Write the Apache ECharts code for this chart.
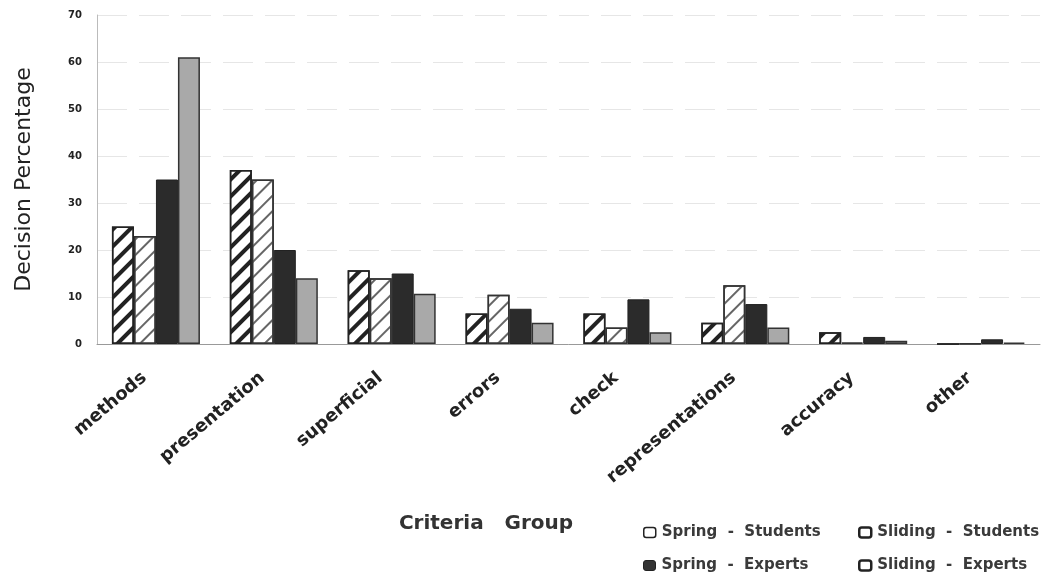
<!DOCTYPE html>
<html>
<head>
<meta charset="utf-8">
<script src="https://cdn.jsdelivr.net/npm/echarts@6/dist/echarts.min.js"></script>
<style>
  html, body { margin: 0; padding: 0; background: #fff; }
  #chart { width: 1044px; height: 583px; }
</style>
</head>
<body>
<div id="chart"></div>
<script>
// categories and values
const categories = ['methods', 'presentation', 'superficial', 'errors', 'check', 'representations', 'accuracy', 'other'];
const springStudents = [25, 37, 15.7, 6.5, 6.5, 4.5, 2.5, 0];
const slidingStudents = [23, 35, 14, 10.5, 3.5, 12.5, 0.3, 0.1];
const springExperts = [35, 20, 15, 7.5, 9.5, 8.5, 1.5, 1];
const slidingExperts = [61, 14, 10.7, 4.5, 2.5, 3.5, 0.7, 0.3];
const yTicks = [0, 10, 20, 30, 40, 50, 60, 70];

const seriesNames = ['Spring - Students', 'Sliding - Students', 'Spring - Experts', 'Sliding - Experts'];

const chart = echarts.init(document.getElementById('chart'));

const font = 'Liberation Sans, Arial, sans-serif';
const wide = 'DejaVu Sans, sans-serif';

// 斜线填充
const hatch = (color, width, gap) => ({
    symbol: 'rect',
    symbolSize: 1,
    color: color,
    dashArrayX: [1, 0],
    dashArrayY: [width, gap],
    rotation: -Math.PI / 4
});

const barBase = {
    type: 'bar',
    barWidth: 22,
    barGap: '0%',
    emphasis: { disabled: true }
};

// 图例：每项单独放置，排成两行两列
const legendItem = (name, fill, border, left, top) => ({
    data: [{ name: name, itemStyle: { color: fill, borderColor: '#222', borderWidth: border, decal: 'none' } }],
    left: left,
    top: top,
    padding: 0,
    itemWidth: 12,
    itemHeight: 10,
    formatter: n => n.replace(' - ', '  -  '),
    textStyle: { fontFamily: wide, fontSize: 15, fontWeight: 'bold', color: '#3a3a3a', padding: [0, 0, 0, 1] },
    selectedMode: false
});

const option = {
    animation: false,
    backgroundColor: '#fff',
    textStyle: { fontFamily: font },
    grid: { left: 97, right: 4, top: 15, bottom: 239 },
    legend: [
        legendItem(seriesNames[0], '#fff', 1.5, 643, 525),
        legendItem(seriesNames[1], '#fff', 2.5, 858, 525),
        legendItem(seriesNames[2], '#333', 1, 643, 558),
        legendItem(seriesNames[3], '#fff', 2.5, 858, 558)
    ],
    xAxis: {
        type: 'category',
        data: categories,
        name: 'Criteria   Group',
        nameLocation: 'middle',
        nameGap: 170,
        nameTextStyle: { fontFamily: wide, fontSize: 20, fontWeight: 'bold', color: '#333', padding: [0, 0, 0, -165] },
        axisLine: { lineStyle: { color: '#999', width: 1 } },
        axisTick: { show: false },
        axisLabel: { rotate: 40, fontSize: 18, fontWeight: 'bold', color: '#222', margin: 22, padding: [0, 15, 0, 0], interval: 0, fontFamily: wide }
    },
    yAxis: {
        type: 'value',
        min: yTicks[0],
        max: yTicks[yTicks.length - 1],
        interval: 10,
        name: 'Decision Percentage',
        nameLocation: 'middle',
        nameGap: 62,
        nameTextStyle: { fontFamily: wide, fontSize: 22, color: '#222' },
        axisLine: { show: true, lineStyle: { color: '#bbb' } },
        axisTick: { show: false },
        axisLabel: { fontSize: 10, fontWeight: 'bold', color: '#222', margin: 15, fontFamily: wide },
        splitLine: { lineStyle: { color: '#e6e6e6', type: [30, 12] } }
    },
    series: [
        Object.assign({}, barBase, {
            name: seriesNames[0],
            data: springStudents,
            itemStyle: { color: '#fff', borderColor: '#222', borderWidth: 1.5, decal: hatch('#222', 3.5, 7.5) }
        }),
        Object.assign({}, barBase, {
            name: seriesNames[1],
            data: slidingStudents,
            itemStyle: { color: '#fff', borderColor: '#333', borderWidth: 1.5, decal: hatch('#666', 2, 9) }
        }),
        Object.assign({}, barBase, {
            name: seriesNames[2],
            data: springExperts,
            itemStyle: { color: '#2b2b2b', borderColor: '#222', borderWidth: 1 }
        }),
        Object.assign({}, barBase, {
            name: seriesNames[3],
            data: slidingExperts,
            itemStyle: { color: '#a9a9a9', borderColor: '#333', borderWidth: 1.5 }
        })
    ]
};

chart.setOption(option);
</script>
</body>
</html>
